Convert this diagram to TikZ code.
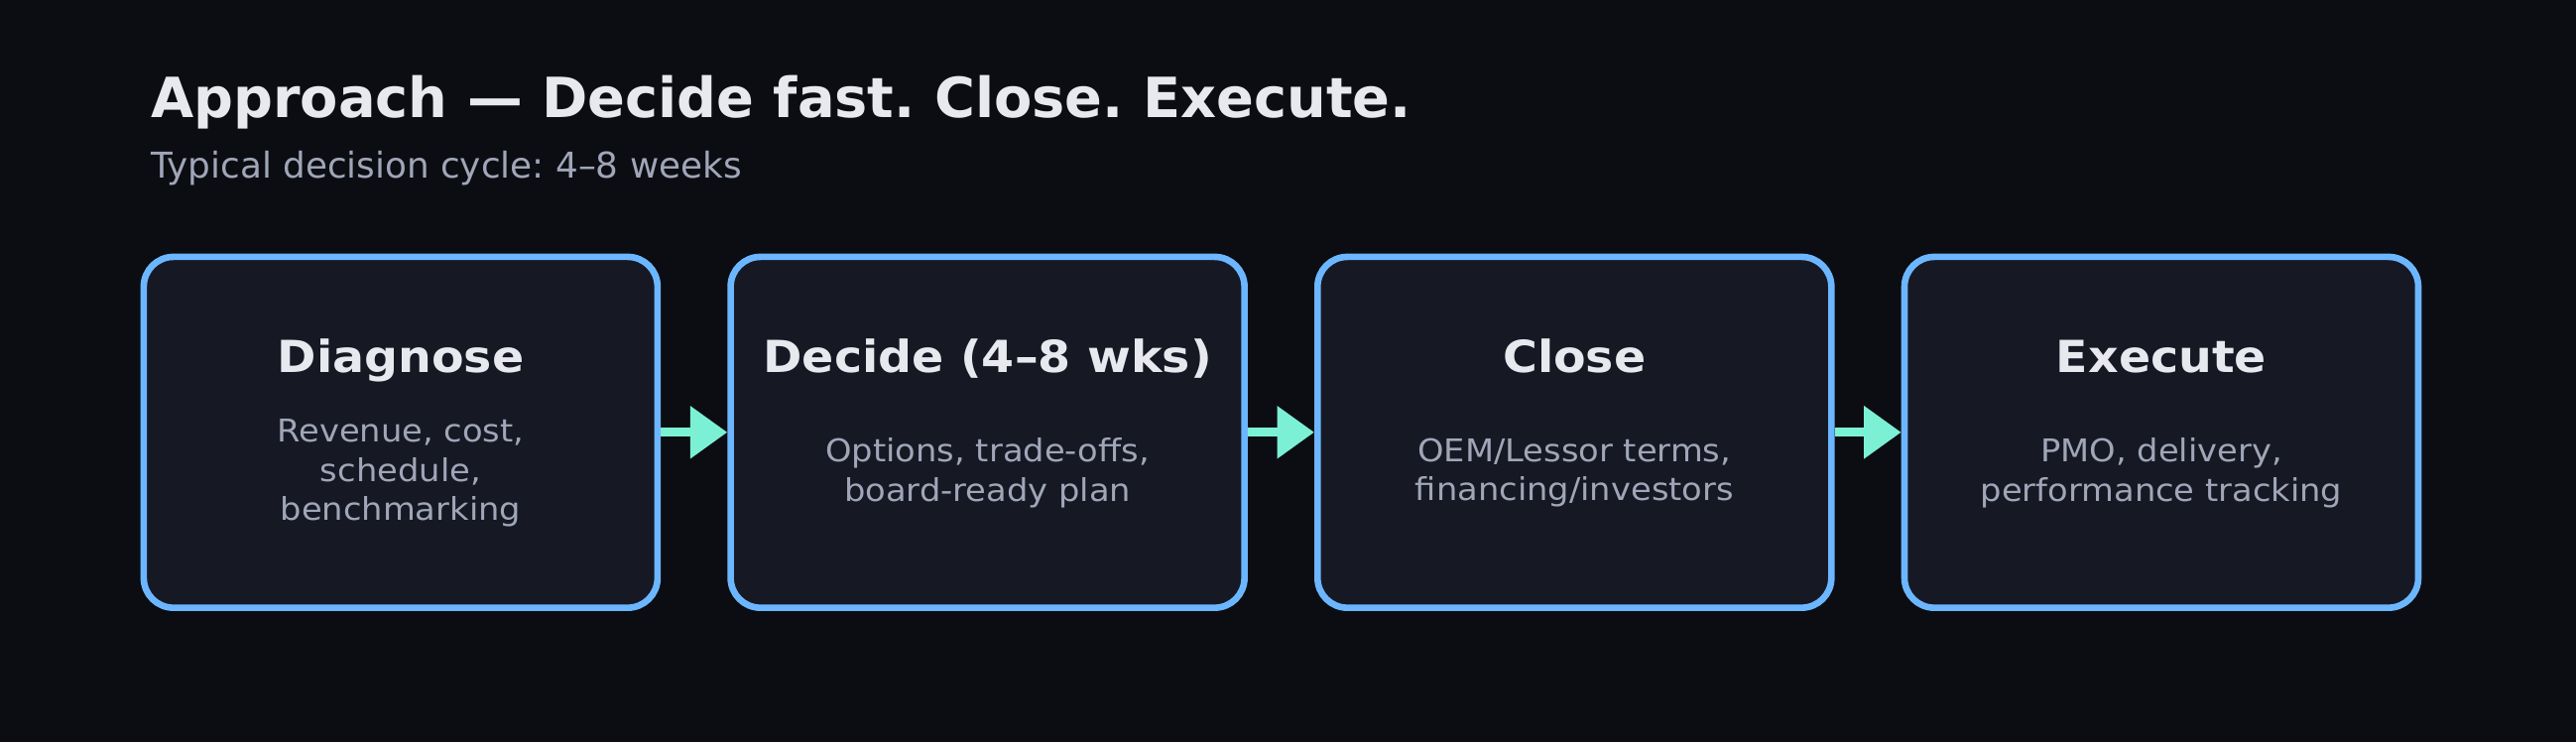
\documentclass[tikz,border=0pt]{standalone}
\usepackage{fontspec}
\setmainfont{DejaVu Sans}
\newfontfamily\stagefont{DejaVu Sans}[FakeStretch=1.067]
\usetikzlibrary{arrows.meta}
\definecolor{pagebg}{RGB}{11,13,18}
\definecolor{cardfill}{RGB}{22,25,36}
\definecolor{cardline}{RGB}{108,182,255}
\definecolor{flowarrow}{RGB}{124,240,212}
\definecolor{headtext}{RGB}{232,233,239}
\definecolor{subtext}{RGB}{160,166,184}

\begin{document}
\frenchspacing
\begin{tikzpicture}[x=1pt,y=1pt,
    stage/.style={draw=cardline,fill=cardfill,line width=6.6pt,rounded corners=30pt,
        minimum width=\stagewidth pt,minimum height=\stageheight pt,inner sep=0},
    stagetitle/.style={anchor=base,inner sep=0,text=headtext,font=\stagefont\bfseries\stagetitlesize},
    stagenote/.style={align=center,inner sep=0,text=subtext,font=\stagefont\stagenotesize},
    flow/.style={draw=flowarrow,line width=9pt,-{Triangle[length=37.5pt,width=51pt]}}]
    \pgfmathsetmacro{\stagewidth}{518}
    \pgfmathsetmacro{\stageheight}{353.7}
    \pgfmathsetmacro{\stagepitch}{591.7}
    \pgfmathsetmacro{\stagex}{403.9}
    \pgfmathsetmacro{\stagey}{312.2}
    \providecommand{\headlinesize}{\fontsize{55.8}{68}\selectfont}
    \providecommand{\sublinesize}{\fontsize{35.8}{43}\selectfont}
    \providecommand{\stagetitlesize}{\fontsize{44.5}{54}\selectfont}
    \providecommand{\stagenotesize}{\fontsize{31.6}{39.3}\selectfont}
    \fill[pagebg] (0,0) rectangle (2597,748);
    \useasboundingbox (0,0) rectangle (2597,748);
    \node[anchor=base west,inner sep=0,text=headtext,font=\bfseries\headlinesize] (headline) at (152,629.7) {Approach — Decide fast. Close. Execute.};
    \node[anchor=base west,inner sep=0,text=subtext,font=\sublinesize] (subline) at (152,568.3) {Typical decision cycle: 4–8 weeks};
    % the four stages
    \node[stage] (diagnose) at (\stagex,\stagey) {};
    \node[stage] (decide) at (\stagex+\stagepitch,\stagey) {};
    \node[stage] (close) at (\stagex+2*\stagepitch,\stagey) {};
    \node[stage] (execute) at (\stagex+3*\stagepitch,\stagey) {};
    \node[stagetitle] (diagnosename) at ([yshift=60pt]diagnose.center) {Diagnose};
    \node[stagetitle] (decidename) at ([yshift=60pt]decide.center) {Decide (4–8 wks)};
    \node[stagetitle] (closename) at ([yshift=60pt]close.center) {Close};
    \node[stagetitle] (executename) at ([yshift=60pt]execute.center) {Execute};
    \node[stagenote] (diagnosenote) at ([yshift=-41pt]diagnose.center) {Revenue, cost,\\schedule,\\benchmarking};
    \node[stagenote] (decidenote) at ([yshift=-41pt]decide.center) {Options, trade-offs,\\board-ready plan};
    \node[stagenote] (closenote) at ([yshift=-41pt]close.center) {OEM/Lessor terms,\\financing/investors};
    \node[stagenote] (executenote) at ([yshift=-41pt]execute.center) {PMO, delivery,\\performance tracking};
    \draw[flow] (diagnose.east) -- (decide.west);
    \draw[flow] (decide.east) -- (close.west);
    \draw[flow] (close.east) -- (execute.west);
\end{tikzpicture}
\end{document}
